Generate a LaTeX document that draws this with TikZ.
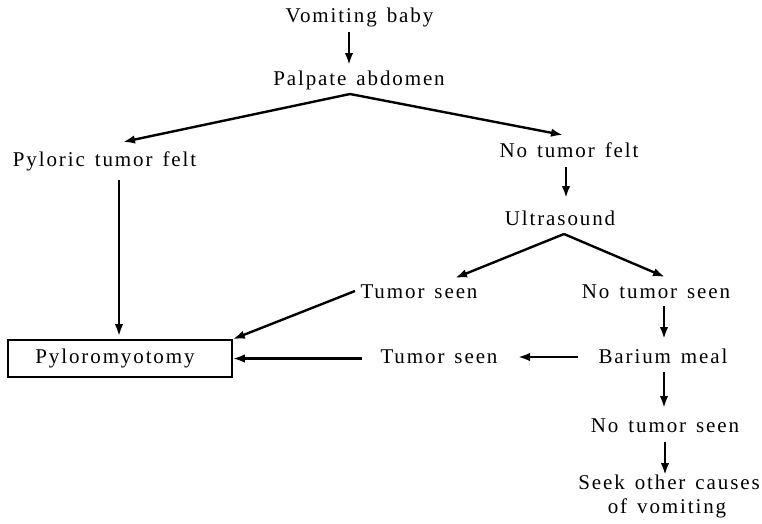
\documentclass[tikz,border=0pt]{standalone}
\usepackage{fontspec}
\setmainfont{Liberation Serif}[LetterSpace=9,WordSpace=1.4]
\usetikzlibrary{arrows.meta,calc}
\begin{document}
\begin{tikzpicture}[x=1pt,y=-1pt,
  lbl/.style={anchor=base,inner sep=0pt,font=\fontsize{21}{24}\selectfont},
  arr/.style={line width=2.4pt,-{Latex[length=12pt,width=8.5pt]}},
  boxnode/.style={draw,line width=1.6pt,minimum width=224pt,minimum height=37pt,inner sep=0pt,font=\fontsize{21}{24}\selectfont}]
\useasboundingbox (0,0) rectangle (762,523);
% nodes
\node[lbl] (vb) at (359.5,22) {Vomiting baby};
\node[lbl] (pa) at (359,85) {Palpate abdomen};
\node[lbl] (ptf) at (104.5,166) {Pyloric tumor felt};
\node[lbl] (ntf) at (569,157) {No tumor felt};
\node[lbl] (us) at (560,225) {Ultrasound};
\node[lbl] (ts1) at (419,298) {Tumor seen};
\node[lbl] (nts1) at (656,298) {No tumor seen};
\node[lbl] (bm) at (663,363) {Barium meal};
\node[lbl] (ts2) at (439,363) {Tumor seen};
\node[lbl] (nts2) at (665,432) {No tumor seen};
\node[lbl] (seek) at (669,489) {Seek other causes};
\node[lbl] (seekb) at (667,513) {of vomiting};
\node[boxnode] (pyl) at (120,358.5) {Pyloromyotomy\kern10pt};
% junctions
\coordinate (j1) at ($(pa.base)+(-9,9)$);
\coordinate (j2) at ($(us.base)+(4,9)$);
% connectors
\draw[arr] ($(vb.base)+(-10.5,10)$) -- ($(pa.base)+(-10,-20)$);
\draw[arr] (j1) -- ($(ptf.base)+(18.5,-24)$);
\draw[arr] (j1) -- ($(ntf.base)+(-6,-22)$);
\draw[arr] ($(ntf.base)+(-3,10)$) -- ($(us.base)+(6,-27)$);
\draw[arr] (j2) -- ($(ts1.base)+(36,-20)$);
\draw[arr] (j2) -- ($(nts1.base)+(9,-21)$);
\draw[arr] ($(nts1.base)+(8,8)$) -- ($(bm.base)+(1,-24)$);
\draw[arr] ($(bm.base)+(-85,-6)$) -- ($(ts2.base)+(79,-6)$);
\draw[arr] ($(ts2.base)+(-77,-4.5)$) -- (pyl.east);
\draw[arr] ($(ts1.base)+(-64,-7)$) -- (pyl.north east);
\draw[arr] ($(ptf.base)+(14.5,14)$) -- ($(pyl.north)+(-1,-3)$);
\draw[arr] ($(bm.base)+(1,9)$) -- ($(nts2.base)+(-1,-24)$);
\draw[arr] ($(nts2.base)+(0,10)$) -- ($(seek.base)+(-4,-14)$);
\end{tikzpicture}
\end{document}
